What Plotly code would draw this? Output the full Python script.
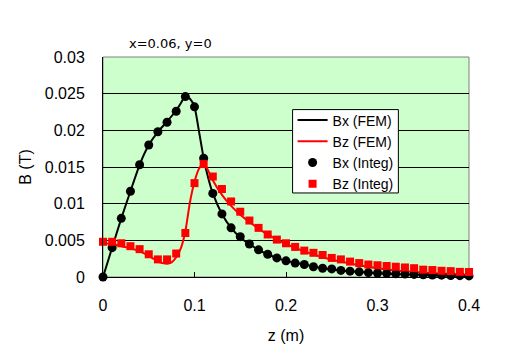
import plotly.graph_objects as go

# ---- data ----
z_integ = [0.00, 0.01, 0.02, 0.03, 0.04, 0.05, 0.06, 0.07, 0.08, 0.09,
           0.10, 0.11, 0.12, 0.13, 0.14, 0.15, 0.16, 0.17, 0.18, 0.19,
           0.20, 0.21, 0.22, 0.23, 0.24, 0.25, 0.26, 0.27, 0.28, 0.29,
           0.30, 0.31, 0.32, 0.33, 0.34, 0.35, 0.36, 0.37, 0.38, 0.39, 0.40]
bx_integ = [0.0, 0.0040, 0.0080, 0.0117, 0.0153, 0.0180, 0.0198, 0.0211, 0.0226, 0.0246,
            0.0232, 0.0162, 0.0114, 0.0086, 0.0067, 0.0055, 0.0045, 0.0037, 0.0031, 0.0026,
            0.0022, 0.0019, 0.0017, 0.0014, 0.0012, 0.0011, 0.0009, 0.0008, 0.0007, 0.0006,
            0.00055, 0.0005, 0.00045, 0.0004, 0.00035, 0.0003, 0.00028, 0.00025, 0.0002, 0.00018, 0.00015]
bz_integ = [0.0048, 0.0048, 0.0046, 0.0042, 0.0038, 0.0031, 0.0024, 0.0024, 0.0032, 0.0060,
            0.0128, 0.0154, 0.0137, 0.0120, 0.0103, 0.0089, 0.0077, 0.0067, 0.0058, 0.0051,
            0.0046, 0.0041, 0.0036, 0.0033, 0.0030, 0.0026, 0.0024, 0.0021, 0.0019, 0.0017,
            0.0016, 0.0015, 0.0014, 0.0013, 0.0012, 0.0010, 0.00095, 0.00085, 0.0008, 0.0007, 0.00068]

z_fem_x = [0.0, 0.01, 0.02, 0.03, 0.04, 0.05, 0.06, 0.07, 0.08, 0.085, 0.09, 0.095,
           0.10, 0.105, 0.11, 0.115, 0.12, 0.13, 0.14, 0.15, 0.16, 0.17, 0.18, 0.19,
           0.20, 0.22, 0.24, 0.26, 0.28, 0.30, 0.32, 0.34, 0.36, 0.38, 0.40]
bx_fem = [0.0, 0.0040, 0.0080, 0.0117, 0.0153, 0.0180, 0.0198, 0.0212, 0.0227, 0.0237, 0.0247, 0.0243,
          0.0232, 0.0198, 0.0162, 0.0135, 0.0114, 0.0086, 0.0067, 0.0054, 0.0045, 0.0037, 0.0031, 0.0026,
          0.0022, 0.0017, 0.0012, 0.0009, 0.0007, 0.0005, 0.0004, 0.0003, 0.00025, 0.0002, 0.00015]

z_fem_z = [0.0, 0.01, 0.02, 0.03, 0.04, 0.05, 0.055, 0.06, 0.065, 0.07, 0.075, 0.08, 0.085,
           0.09, 0.095, 0.10, 0.105, 0.11, 0.115, 0.12, 0.13, 0.14, 0.15, 0.16, 0.17, 0.18,
           0.19, 0.20, 0.22, 0.24, 0.26, 0.28, 0.30, 0.32, 0.34, 0.36, 0.38, 0.40]
bz_fem = [0.0046, 0.0045, 0.0042, 0.0039, 0.0035, 0.0029, 0.0025, 0.0021, 0.0019, 0.0018, 0.0020, 0.0027, 0.0039,
          0.0062, 0.0102, 0.0130, 0.0148, 0.0155, 0.0145, 0.0132, 0.0112, 0.0097, 0.0085, 0.0075, 0.0066, 0.0058,
          0.0051, 0.0045, 0.0035, 0.0027, 0.0021, 0.0016, 0.0012, 0.0009, 0.0007, 0.0005, 0.0004, 0.0003]

FONT = "Liberation Sans, Arial, sans-serif"

fig = go.Figure()
fig.add_trace(go.Scatter(x=z_fem_x, y=bx_fem, mode="lines", name="Bx (FEM)",
                         line=dict(color="black", width=2, shape="spline", smoothing=0.5)))
fig.add_trace(go.Scatter(x=z_fem_z, y=bz_fem, mode="lines", name="Bz (FEM)",
                         line=dict(color="#ff0000", width=2, shape="spline", smoothing=0.5)))
fig.add_trace(go.Scatter(x=z_integ, y=bx_integ, mode="markers", name="Bx (Integ)",
                         marker=dict(symbol="circle", color="black", size=9), cliponaxis=False))
fig.add_trace(go.Scatter(x=z_integ, y=bz_integ, mode="markers", name="Bz (Integ)",
                         marker=dict(symbol="square", color="#ff0000", size=8), cliponaxis=False))

# gray plot-area border (top/right)
fig.add_shape(type="rect", xref="x domain", yref="y domain", x0=0, x1=1, y0=0, y1=1,
              line=dict(color="#808080", width=1), layer="below")
# legend box (white, black border) drawn over the data
fig.add_shape(type="rect", xref="x domain", yref="y domain", x0=0.518, x1=0.807, y0=0.382, y1=0.761,
              line=dict(color="black", width=1), fillcolor="white", layer="above")

fig.update_layout(
    width=511, height=351,
    margin=dict(l=95, r=50, t=49, b=82),
    paper_bgcolor="white",
    plot_bgcolor="#ccffcc",
    font=dict(family=FONT, size=16, color="black"),
    showlegend=True,
    legend=dict(x=0.518, y=0.784, xanchor="left", yanchor="top",
                bgcolor="rgba(0,0,0,0)", borderwidth=0,
                font=dict(size=14), tracegroupgap=0, itemwidth=30),
    annotations=[dict(text="x=0.06, y=0", xref="paper", yref="paper",
                      x=0.185, y=1.06, xanchor="center", yanchor="middle",
                      showarrow=False, font=dict(size=13, family="DejaVu Sans")),],
)
fig.update_xaxes(range=[0, 0.4], dtick=0.1, tick0=0, showgrid=False, zeroline=False,
                 showline=True, linecolor="black", linewidth=1,
                 ticks="inside", ticklen=5, tickcolor="black",
                 ticklabelstandoff=14,
                 title=dict(text="z (m)", standoff=16, font=dict(size=16)))
fig.update_yaxes(range=[0, 0.03], dtick=0.005, tick0=0, showgrid=True, gridcolor="black",
                 gridwidth=1, zeroline=False, showline=True, linecolor="black", linewidth=1,
                 ticks="", ticklabelstandoff=14,
                 title=dict(text="B (T)", standoff=9, font=dict(size=16)))

fig.write_html("out.html")
